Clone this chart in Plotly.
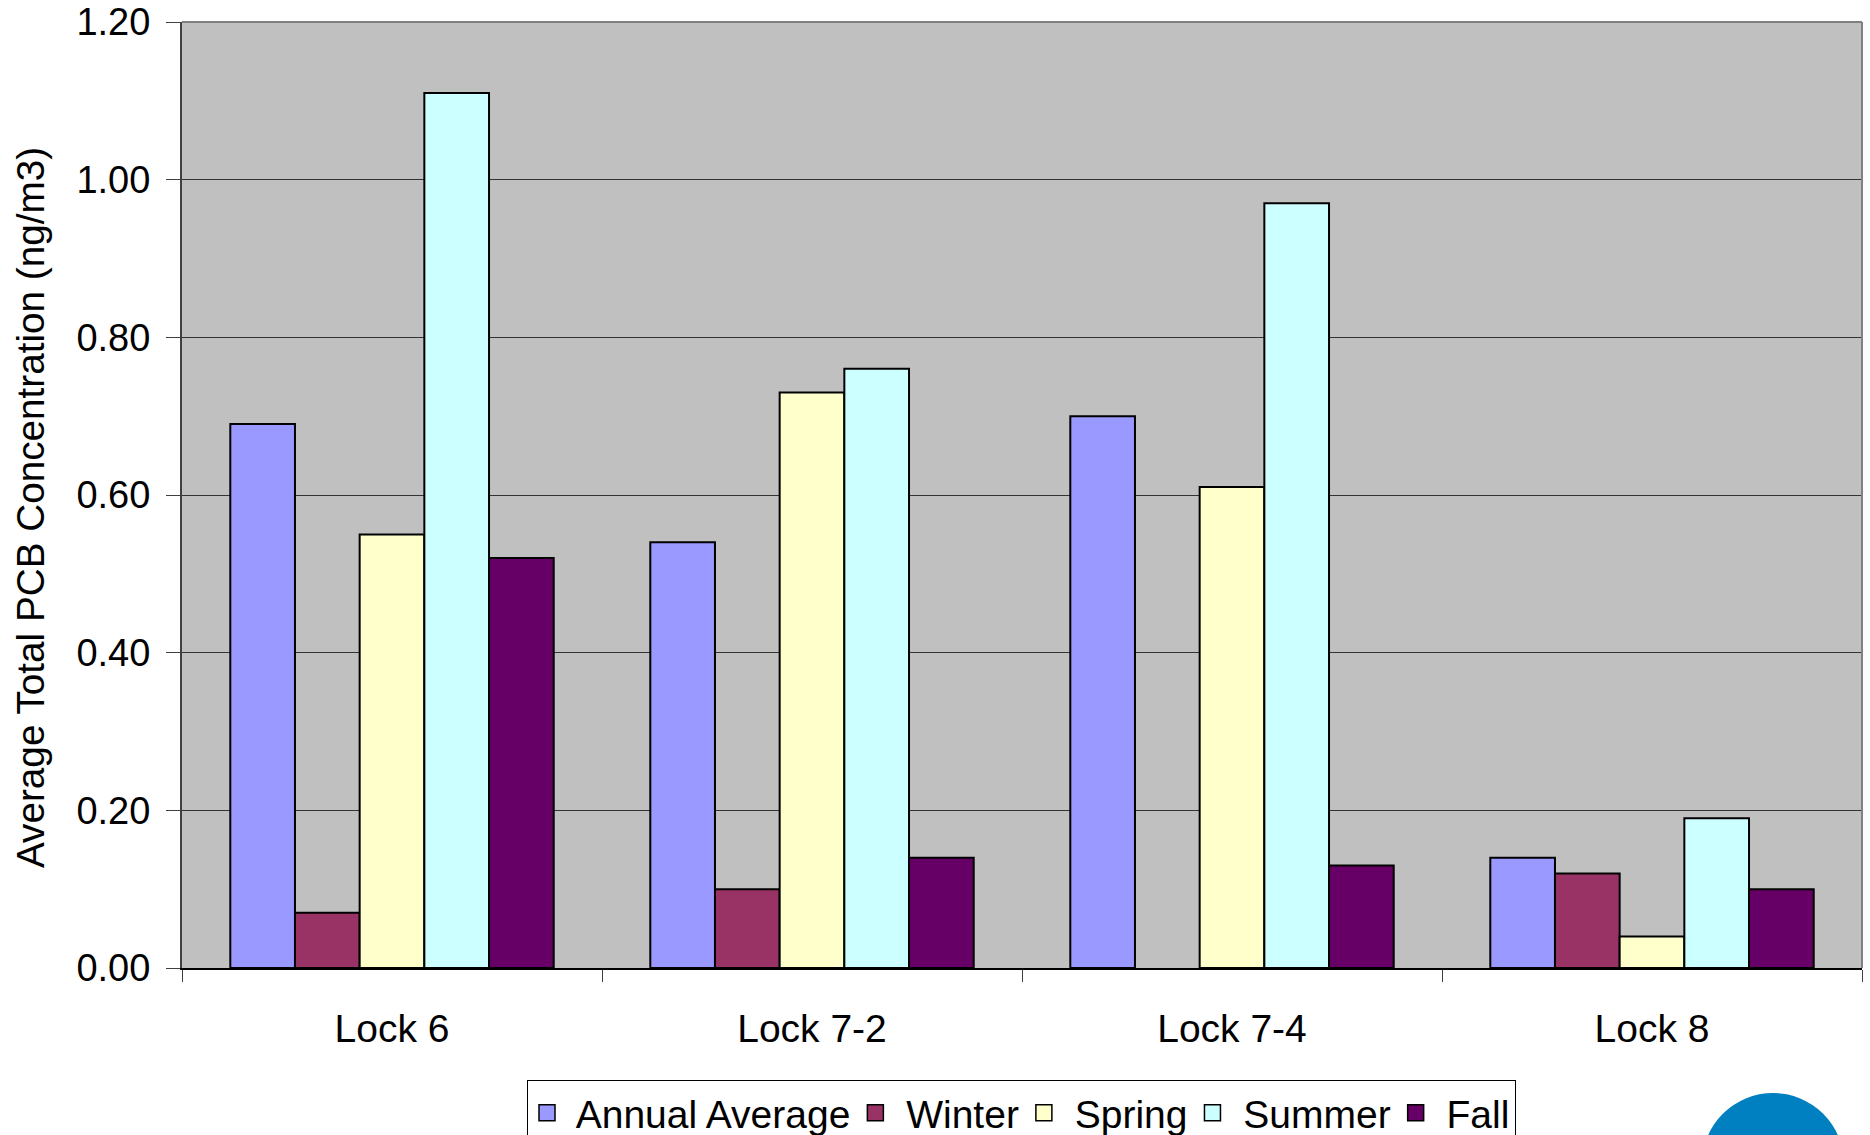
import plotly.graph_objects as go

categories = ["Lock 6", "Lock 7-2", "Lock 7-4", "Lock 8"]
series_names = ["Annual Average", "Winter", "Spring", "Summer", "Fall"]
annual_average = [0.69, 0.54, 0.70, 0.14]
winter = [0.07, 0.10, None, 0.12]
spring = [0.55, 0.73, 0.61, 0.04]
summer = [1.11, 0.76, 0.97, 0.19]
fall = [0.52, 0.14, 0.13, 0.10]
y_ticks = [0.0, 0.2, 0.4, 0.6, 0.8, 1.0, 1.2]
y_tick_labels = ["0.00", "0.20", "0.40", "0.60", "0.80", "1.00", "1.20"]

series_values = [annual_average, winter, spring, summer, fall]
colors = ["#9999FF", "#993366", "#FFFFCC", "#CCFFFF", "#660066"]

W, H = 1870, 1135
ML, MR, MT, MB = 182, 8, 22, 167
PW = W - ML - MR
PH = H - MT - MB

def px_x(p):
    return (p - ML) / PW

def px_y(p):
    return (H - MB - p) / PH

FONT = "Liberation Sans, Arial, sans-serif"
FS = 39

fig = go.Figure()
for name, vals, col in zip(series_names, series_values, colors):
    fig.add_trace(go.Bar(
        name=name, x=categories, y=vals, legendgroup=name, showlegend=False,
        marker=dict(color=col, line=dict(color="#000000", width=2)),
    ))
# legend entries with larger square swatches
for name, col in zip(series_names, colors):
    fig.add_trace(go.Scatter(
        name=" " + name, x=[None], y=[None], mode="markers", legendgroup=name,
        marker=dict(symbol="square", size=16, color=col, line=dict(color="#000000", width=1.5)),
        hoverinfo="skip",
    ))

fig.update_layout(
    width=W, height=H,
    margin=dict(l=ML, r=MR, t=MT, b=MB, autoexpand=False),
    paper_bgcolor="#FFFFFF",
    plot_bgcolor="#C0C0C0",
    barmode="group",
    bargap=0.23,
    bargroupgap=0,
    font=dict(family=FONT, size=FS, color="#000000"),
    showlegend=True,
    legend=dict(
        orientation="h",
        x=px_x(527), y=px_y(1080), xanchor="left", yanchor="top",
        bgcolor="#FFFFFF", bordercolor="#000000", borderwidth=1,
        font=dict(family=FONT, size=FS, color="#000000"),
        itemclick=False, itemdoubleclick=False,
        tracegroupgap=0,
    ),
    xaxis=dict(
        type="category",
        showgrid=False,
        showline=True, linecolor="#000000", linewidth=2,
        ticks="outside", tickson="boundaries", ticklen=12, tickcolor="#404040", tickwidth=1,
        ticklabelstandoff=25,
        tickfont=dict(family=FONT, size=FS, color="#000000"),
        mirror=False,
    ),
    yaxis=dict(
        range=[0, 1.2],
        tickvals=y_ticks, ticktext=y_tick_labels,
        showgrid=True, gridcolor="#333333", gridwidth=1,
        showline=True, linecolor="#404040", linewidth=2,
        ticks="outside", ticklen=14, tickcolor="#404040", tickwidth=1,
        ticklabelstandoff=8,
        tickfont=dict(family=FONT, size=38, color="#000000"),
        zeroline=False,
    ),
    annotations=[dict(
        text="Average Total PCB Concentration (ng/m3)",
        xref="paper", yref="paper",
        x=px_x(30), y=px_y(508),
        xanchor="center", yanchor="middle",
        textangle=-90, showarrow=False,
        font=dict(family=FONT, size=38.7, color="#000000"),
    )],
    shapes=[
        dict(type="line", xref="paper", yref="paper", x0=0, x1=1, y0=1, y1=1,
             line=dict(color="#808080", width=2), layer="above"),
        dict(type="line", xref="paper", yref="paper", x0=1, x1=1, y0=0, y1=1,
             line=dict(color="#808080", width=2), layer="above"),
        dict(type="circle", xref="paper", yref="paper",
             x0=px_x(1702), x1=px_x(1844), y0=px_y(1093), y1=px_y(1235),
             fillcolor="#0080C0", line=dict(width=0), layer="above"),
    ],
)

fig.write_html("out.html")
